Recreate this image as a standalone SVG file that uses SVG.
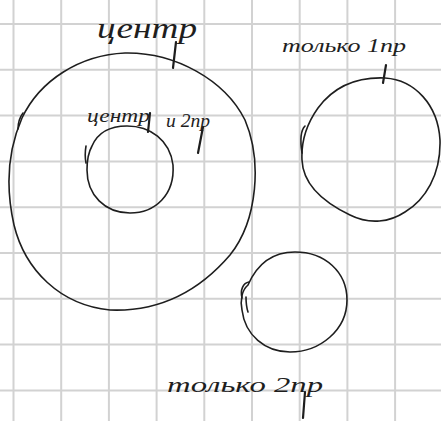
<svg xmlns="http://www.w3.org/2000/svg" width="441" height="421" viewBox="0 0 441 421">
<style>
.grid{stroke:#d2d2d2;stroke-width:2;fill:none}
.ink{stroke:#1e1e1e;stroke-width:1.6;fill:none;stroke-linecap:round;stroke-linejoin:round}
.lead{stroke:#1e1e1e;stroke-width:2.2;fill:none;stroke-linecap:round}
.lbl{font-family:"Liberation Serif","DejaVu Serif",serif;font-style:italic;fill:#1e1e1e}
</style>
<rect width="441" height="421" fill="#ffffff"/>
<g id="grid" class="grid">
<path d="M13.5 0V421M61.2 0V421M108.9 0V421M156.6 0V421M204.3 0V421M252 0V421M299.7 0V421M347.4 0V421M395.1 0V421"/>
<path d="M0 24H441M0 69.8H441M0 115.6H441M0 161.4H441M0 207.2H441M0 253H441M0 298.8H441M0 344.6H441M0 390.4H441"/>
</g>
<g id="connectors">
<path class="lead" d="M176 42 L173 68"/>
<path class="lead" d="M386 65 L383 83"/>
<path class="lead" d="M150 113 L148 132"/>
<path class="lead" d="M203 127 L198 153"/>
<path class="lead" d="M305 392 L303 418"/>
</g>
<g id="center">
<path class="ink" d="M22 118 C40 80 80 55 125 53 C175 52 225 80 245 120 C262 160 258 220 230 255 C200 290 160 312 110 310 C60 305 25 270 14 225 C5 185 8 150 22 118"/>
<path class="ink" d="M18 129 C18 122 20 117 23 113"/>
<text class="lbl" x="97" y="38" font-size="30" textLength="100" lengthAdjust="spacingAndGlyphs">центр</text>
</g>
<g id="center-and-2pr">
<path class="ink" d="M92 146 C98 132 110 126 127 126 C150 126 170 140 173 165 C175 195 155 213 130 213 C105 213 87 195 87 170 C87 160 88 153 92 146"/>
<path class="ink" d="M86 146 C85 152 85 158 86 163"/>
<text class="lbl" x="87" y="122" font-size="19" textLength="63" lengthAdjust="spacingAndGlyphs">центр</text>
<text class="lbl" x="166" y="127" font-size="18" textLength="44" lengthAdjust="spacingAndGlyphs">и 2пр</text>
</g>
<g id="only-1pr">
<path class="ink" d="M318 108 C335 85 360 77 385 78 C415 80 438 105 440 140 C441 175 425 200 405 212 C390 222 370 225 350 215 C325 203 303 185 302 160 C301 140 308 122 318 108"/>
<path class="ink" d="M302 153 C300 140 301 130 305 126"/>
<text class="lbl" x="282" y="52" font-size="19" textLength="124" lengthAdjust="spacingAndGlyphs">только 1пр</text>
</g>
<g id="only-2pr">
<path class="ink" d="M248 285 C258 262 275 252 295 252 C325 252 347 272 347 300 C347 330 320 352 290 352 C265 352 245 335 242 310 C240 300 242 290 248 285"/>
<path class="ink" d="M249 282 C243 283 240 290 242 298"/>
<path class="ink" d="M246 297 C246 304 247 309 248 312"/>
<text class="lbl" x="167" y="392" font-size="21" textLength="156" lengthAdjust="spacingAndGlyphs">только 2пр</text>
</g>
</svg>
